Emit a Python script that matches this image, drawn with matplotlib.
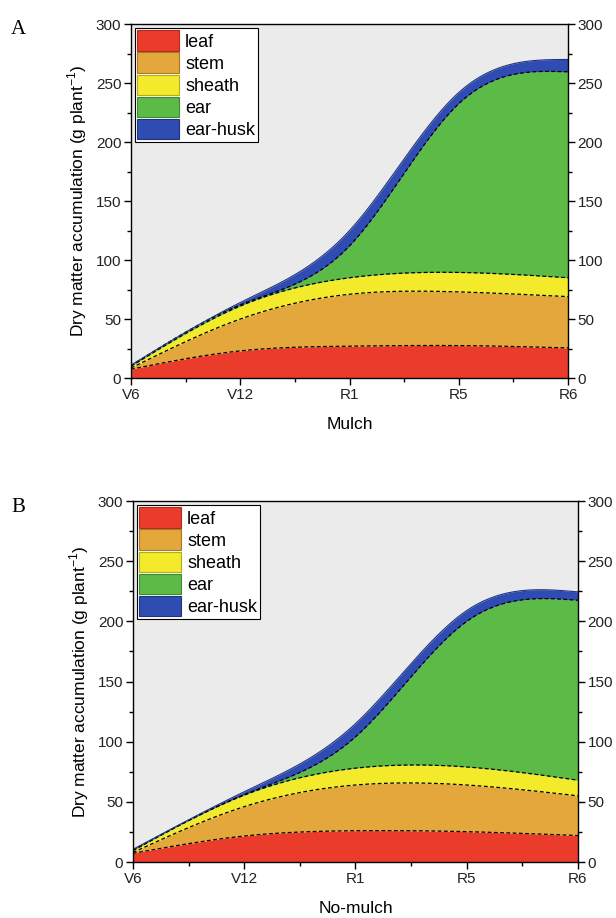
import numpy as np
import matplotlib
matplotlib.use("Agg")
import matplotlib.pyplot as plt
from matplotlib.patches import Patch
from matplotlib.ticker import MultipleLocator

plt.rcParams['font.family'] = ['Liberation Sans', 'DejaVu Sans']

stages = ['V6', 'V12', 'R1', 'R5', 'R6']
parts = ['leaf', 'stem', 'sheath', 'ear', 'ear-husk']
colors = ['#ea3b2b', '#e3a73b', '#f2ea2a', '#5cbb46', '#2f4cb2']
edges = ['#b02a1e', '#a97a25', '#b3ac1c', '#3d8a2f', '#1f3380']

# dry matter per organ (g plant-1) at each stage, mulch
mulch_leaf = [7.5, 23, 27, 27.5, 25.5]
mulch_stem = [1, 27, 44, 45.5, 43.5]
mulch_sheath = [1.5, 11, 14, 16.5, 16]
mulch_ear = [0.5, 1, 27, 143, 174.5]
mulch_husk = [0.5, 2, 13, 9.5, 10.5]

# no-mulch
nomulch_leaf = [7.2, 21.6, 26, 25.2, 22]
nomulch_stem = [0.8, 24.4, 38, 38.8, 33]
nomulch_sheath = [1.5, 9.6, 14, 15, 13]
nomulch_ear = [0.5, 0.4, 26, 121, 149.5]
nomulch_husk = [0.5, 2.4, 11, 9, 7]


def smooth(x, y, n=300):
    # natural cubic spline through the stage values
    x = np.asarray(x, float)
    y = np.asarray(y, float)
    m = len(x)
    h = np.diff(x)
    A = np.zeros((m, m))
    r = np.zeros(m)
    A[0, 0] = A[-1, -1] = 1
    for i in range(1, m - 1):
        A[i, i - 1] = h[i - 1]
        A[i, i] = 2 * (h[i - 1] + h[i])
        A[i, i + 1] = h[i]
        r[i] = 3 * ((y[i + 1] - y[i]) / h[i] - (y[i] - y[i - 1]) / h[i - 1])
    c = np.linalg.solve(A, r)
    b = (y[1:] - y[:-1]) / h - h * (2 * c[:-1] + c[1:]) / 3
    d = (c[1:] - c[:-1]) / (3 * h)
    xs = np.linspace(x[0], x[-1], n)
    idx = np.clip(np.searchsorted(x, xs) - 1, 0, m - 2)
    dx = xs - x[idx]
    return xs, y[idx] + b[idx] * dx + c[idx] * dx ** 2 + d[idx] * dx ** 3


def panel(ax, series, xlabel):
    x = np.arange(len(stages))
    base = None
    for k, (vals, col) in enumerate(zip(series, colors)):
        xs, ys = smooth(x, vals)
        if base is None:
            base = np.zeros_like(ys)
        top = base + ys
        ax.fill_between(xs, base, top, color=col, lw=0)
        if k < len(series) - 1:
            ax.plot(xs, top, color='black', lw=0.9, ls=(0, (3, 2)))
        else:
            ax.plot(xs, top, color=edges[k], lw=0.8)
        base = top

    ax.set_facecolor('#ebebeb')
    ax.set_xlim(0, len(stages) - 1)
    ax.set_ylim(0, 300)
    ax.set_xticks(x)
    ax.set_xticklabels(stages)
    ax.xaxis.set_minor_locator(MultipleLocator(0.5))
    ax.yaxis.set_major_locator(MultipleLocator(50))
    ax.yaxis.set_minor_locator(MultipleLocator(25))
    ax.tick_params(which='both', direction='out', labelsize=11, width=1,
                   left=True, right=True, labelright=True, top=False,
                   labelcolor='#222222')
    ax.tick_params(which='major', length=5, pad=2)
    ax.tick_params(which='minor', length=3)
    for s in ax.spines.values():
        s.set_linewidth(1)
    ax.set_xlabel(xlabel, fontsize=12.5, labelpad=11)
    ax.set_ylabel(r'Dry matter accumulation (g plant$^{\mathregular{-1}}$)',
                  fontsize=12.5, labelpad=5)

    handles = [Patch(facecolor=c, edgecolor=e, lw=0.8) for c, e in zip(colors, edges)]
    leg = ax.legend(handles, parts, loc='upper left', fontsize=13,
                    frameon=True, fancybox=False, framealpha=1, edgecolor='black',
                    borderaxespad=0.2, borderpad=0.15, labelspacing=0.1,
                    handlelength=2.3, handleheight=1.35, handletextpad=0.35)
    leg.get_frame().set_linewidth(0.8)


fig = plt.figure(figsize=(6.16, 9.18), dpi=100)
axA = fig.add_axes([0.2127, 0.5882, 0.7094, 0.3856])
axB = fig.add_axes([0.2159, 0.0610, 0.7224, 0.3932])

panel(axA, [mulch_leaf, mulch_stem, mulch_sheath, mulch_ear, mulch_husk], 'Mulch')
panel(axB, [nomulch_leaf, nomulch_stem, nomulch_sheath, nomulch_ear, nomulch_husk], 'No-mulch')

fig.text(18 / 616, 1 - 29 / 918, 'A', fontsize=15, family='Liberation Serif', ha='center', va='center')
fig.text(18 / 616, 1 - 508 / 918, 'B', fontsize=15, family='Liberation Serif', ha='center', va='center')

fig.savefig('out.png', dpi=100)
